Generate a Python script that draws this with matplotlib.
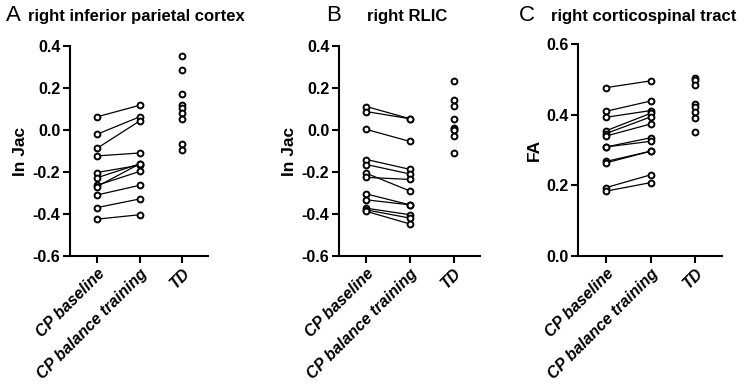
import matplotlib.pyplot as plt

plt.rcParams['font.family'] = ['Liberation Sans', 'DejaVu Sans']

groups = ['CP baseline', 'CP balance training', 'TD']

# panel A: right inferior parietal cortex (ln Jac)
a_base = [0.063, -0.020, -0.087, -0.123, -0.202, -0.227, -0.263, -0.269, -0.309, -0.369, -0.424]
a_train = [0.118, 0.063, 0.043, -0.109, -0.167, -0.161, -0.197, -0.161, -0.263, -0.328, -0.403]
a_td = [0.351, 0.285, 0.172, 0.120, 0.106, 0.080, 0.054, -0.065, -0.093]

# panel B: right RLIC (ln Jac)
b_base = [0.112, 0.088, 0.003, -0.140, -0.164, -0.206, -0.225, -0.304, -0.332, -0.372, -0.380, -0.387]
b_train = [0.054, 0.054, -0.054, -0.187, -0.209, -0.290, -0.235, -0.356, -0.356, -0.403, -0.419, -0.447]
b_td = [0.232, 0.143, 0.114, 0.054, 0.012, 0.004, 0.000, -0.028, -0.110]

# panel C: right corticospinal tract (FA)
c_base = [0.477, 0.410, 0.393, 0.355, 0.347, 0.340, 0.309, 0.309, 0.268, 0.264, 0.194, 0.184]
c_train = [0.496, 0.439, 0.412, 0.404, 0.394, 0.374, 0.335, 0.325, 0.297, 0.297, 0.230, 0.208]
c_td = [0.505, 0.498, 0.484, 0.432, 0.423, 0.408, 0.392, 0.350]

panels = [
    ('A', 'right inferior parietal cortex', 'In Jac', a_base, a_train, a_td,
     (-0.6, 0.4), [-0.6, -0.4, -0.2, 0.0, 0.2, 0.4], [0.0935, 0.333, 0.184, 0.547]),
    ('B', 'right RLIC', 'In Jac', b_base, b_train, b_td,
     (-0.6, 0.4), [-0.6, -0.4, -0.2, 0.0, 0.2, 0.4], [0.4526, 0.333, 0.188, 0.547]),
    ('C', 'right corticospinal tract', 'FA', c_base, c_train, c_td,
     (0.0, 0.6), [0.0, 0.2, 0.4, 0.6], [0.7717, 0.333, 0.192, 0.552]),
]

letter_pos = [(0.008, 0.037), (0.435, 0.49), (0.693, 0.735)]

fig = plt.figure(figsize=(7.49, 3.84), dpi=100)

for (letter, title, ylab, base, train, td, ylim, yticks, rect), (lx, tx) in zip(panels, letter_pos):
    ax = fig.add_axes(rect)
    for b, t in zip(base, train):
        ax.plot([0, 1], [b, t], color='black', lw=0.9, zorder=1)
    mk = dict(marker='o', ms=4.2, mfc='white', mec='black', mew=1.4, ls='none', zorder=2)
    ax.plot([0] * len(base), base, **mk)
    ax.plot([1] * len(train), train, **mk)
    ax.plot([2] * len(td), td, **mk)

    ax.set_xlim(-0.63, 2.6)
    ax.set_ylim(*ylim)
    ax.set_yticks(yticks)
    ax.set_yticklabels([f'{v:.1f}' for v in yticks], fontsize=11.5, fontweight='bold')
    ax.set_xticks([0, 1, 2])
    ax.set_xticklabels(groups, rotation=45, ha='right', rotation_mode='anchor',
                       fontsize=11.5, fontweight='bold', fontstyle='italic')
    ax.set_ylabel(ylab, fontsize=12.5, fontweight='bold', labelpad=3)
    for s in ['top', 'right']:
        ax.spines[s].set_visible(False)
    for s in ['left', 'bottom']:
        ax.spines[s].set_linewidth(1.5)
    ax.tick_params(width=1.5, length=5, direction='out', pad=2)

    fig.text(lx, 0.945, letter, fontsize=16, va='baseline')
    fig.text(tx, 0.945, title, fontsize=12, fontweight='bold', va='baseline')

fig.savefig('out.png', dpi=100)
